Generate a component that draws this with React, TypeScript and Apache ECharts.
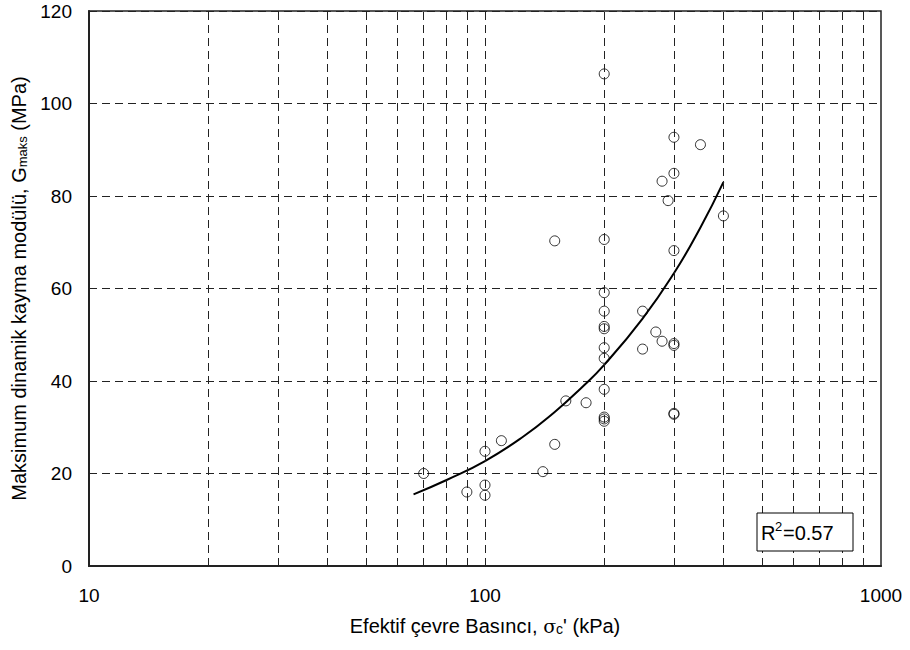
import React, { useEffect, useRef } from "react";
import * as echarts from "echarts";

const pressure = [70, 90, 100, 100, 100, 110, 140, 150, 150, 160, 180, 200, 200, 200, 200, 200, 200, 200, 200, 200, 200, 200, 200, 250, 250, 270, 280, 300, 300, 300, 300, 300, 350, 300, 280, 290, 400, 300];
const gmax = [20.0, 16.0, 15.3, 17.5, 24.8, 27.1, 20.4, 26.3, 70.3, 35.7, 35.3, 106.4, 70.6, 59.1, 55.1, 51.8, 51.3, 47.2, 44.9, 38.2, 32.2, 31.8, 31.3, 55.1, 46.9, 50.6, 48.6, 48.1, 47.7, 33.0, 32.8, 92.7, 91.1, 84.9, 83.2, 79.0, 75.7, 68.2];

const fitX = [66, 80, 100, 125, 150, 175, 200, 250, 300, 350, 400];
const fitY = [15.5, 18.6, 22.7, 28.0, 33.3, 38.5, 43.5, 53.5, 63.3, 73.2, 83.0];

const gridX = [20, 30, 40, 50, 60, 70, 80, 90, 100, 200, 300, 400, 500, 600, 700, 800, 900];
const yTicks = [0, 20, 40, 60, 80, 100, 120];
const xTickLabels = [10, 100, 1000];
const r2Text = "0.57";

const FONT = "'Liberation Sans', Arial, sans-serif";

export default function App() {
  const ref = useRef<HTMLDivElement>(null);
  useEffect(() => {
    if (!ref.current) return;
    const chart = echarts.init(ref.current, null, { renderer: "svg" });
    const option = {
      animation: false,
      backgroundColor: "#fff",
      grid: { left: 89, right: 29, top: 11, bottom: 84, show: true, borderColor: "#222", borderWidth: 1.5, containLabel: false },
      xAxis: {
        type: "log",
        logBase: 10,
        min: 10,
        max: 1000,
        name: "Efektif çevre Basıncı, {sig|σ}{sub|c}' (kPa)",
        nameLocation: "middle",
        nameGap: 50,
        nameTextStyle: {
          fontSize: 20,
          color: "#000",
          fontFamily: FONT,
          rich: {
            sig: { fontSize: 19, fontFamily: "'DejaVu Serif', serif", color: "#000" },
            sub: { fontSize: 14, fontFamily: FONT, color: "#000", verticalAlign: "bottom" },
          },
        },
        axisLine: { show: true, lineStyle: { color: "#222", width: 2 } },
        axisTick: { show: false },
        splitLine: { show: false },
        minorTick: { show: false },
        axisLabel: {
          fontSize: 19,
          color: "#000",
          fontFamily: FONT,
          margin: 20,
          formatter: (v: number) => (xTickLabels.includes(Math.round(v)) ? String(Math.round(v)) : ""),
        },
      },
      yAxis: {
        type: "value",
        min: yTicks[0],
        max: yTicks[yTicks.length - 1],
        interval: 20,
        name: "Maksimum dinamik kayma modülü, G{sub|maks} (MPa)",
        nameLocation: "middle",
        nameGap: 60,
        nameTextStyle: {
          fontSize: 20,
          color: "#000",
          fontFamily: FONT,
          rich: {
            sub: { fontSize: 13, fontFamily: FONT, color: "#000", verticalAlign: "bottom" },
          },
        },
        axisLine: { show: true, lineStyle: { color: "#222", width: 2 } },
        axisTick: { show: false },
        splitLine: { show: true, lineStyle: { color: "#222", width: 1, type: [8, 5] } },
        axisLabel: { fontSize: 19, color: "#000", fontFamily: FONT, margin: 17 },
      },
      series: [
        {
          type: "scatter",
          data: [],
          silent: true,
          markLine: {
            silent: true,
            symbol: ["none", "none"],
            label: { show: false },
            lineStyle: { color: "#222", width: 1, type: [8, 5] },
            data: gridX.map((v) => ({ xAxis: v })),
          },
        },
        {
          type: "line",
          data: fitX.map((x, i) => [x, fitY[i]]),
          smooth: true,
          showSymbol: false,
          symbol: "none",
          lineStyle: { color: "#000", width: 2 },
          z: 3,
        },
        {
          type: "scatter",
          data: pressure.map((x, i) => [x, gmax[i]]),
          symbol: "circle",
          symbolSize: 10,
          itemStyle: { color: "rgba(0,0,0,0)", borderColor: "#000", borderWidth: 1 },
          z: 4,
        },
      ],
      graphic: [
        {
          type: "rect",
          shape: { x: 757, y: 513, width: 96, height: 38 },
          style: { fill: "#fff", stroke: "#000", lineWidth: 1 },
          z: 10,
        },
        {
          type: "text",
          x: 761,
          y: 533,
          style: { text: "R", fontSize: 20, fontFamily: FONT, fill: "#000", textVerticalAlign: "middle" },
          z: 11,
        },
        {
          type: "text",
          x: 775,
          y: 526,
          style: { text: "2", fontSize: 13, fontFamily: FONT, fill: "#000", textVerticalAlign: "middle" },
          z: 11,
        },
        {
          type: "text",
          x: 783,
          y: 533,
          style: { text: "=" + r2Text, fontSize: 20, fontFamily: FONT, fill: "#000", textVerticalAlign: "middle" },
          z: 11,
        },
      ],
    };
    chart.setOption(option as any);
    return () => chart.dispose();
  }, []);
  return <div ref={ref} style={{ width: 910, height: 650, position: "absolute", left: 0, top: 0 }} />;
}
